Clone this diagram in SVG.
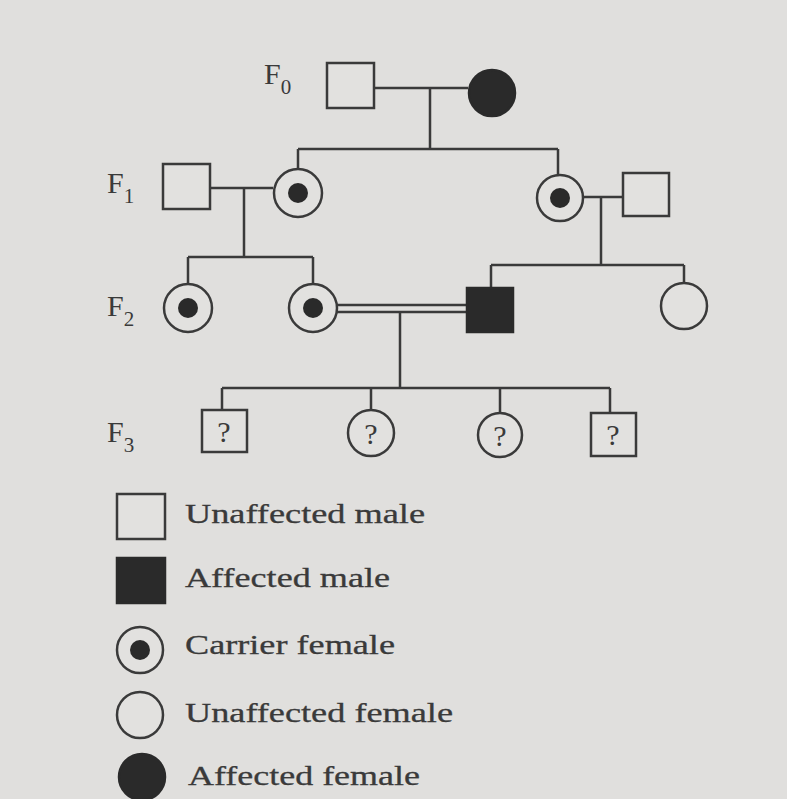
<svg xmlns="http://www.w3.org/2000/svg" width="787" height="799" viewBox="0 0 787 799">
<style>
.ln{fill:none;stroke:#3a3a3a;stroke-width:2.5}
.open{fill:#e2e1df;stroke:#3a3a3a;stroke-width:2.5}
.fill{fill:#2a2a2a;stroke:#2a2a2a;stroke-width:2.5}
.dot{fill:#2a2a2a}
.lbl{font-family:"Liberation Serif","DejaVu Serif",serif;font-size:30px;fill:#3a3a3a}
.sub{font-size:21px}
.q{font-family:"Liberation Serif","DejaVu Serif",serif;font-size:30px;fill:#3a3a3a;text-anchor:middle}
.leg{font-family:"Liberation Serif","DejaVu Serif",serif;font-size:27px;fill:#3a3a3a;stroke:#3a3a3a;stroke-width:0.3}
</style>
<rect width="787" height="799" fill="#e0dfdd"/>
<g id="connectors">
<path class="ln" d="M374 88 H468 M430 88 V149 M298 149 H558 M298 149 V169 M558 149 V175"/>
<path class="ln" d="M210 188 H273 M244 188 V257 M188 257 H313 M188 257 V284 M313 257 V284"/>
<path class="ln" d="M584 197 H623 M601 197 V265 M491 265 H684 M491 265 V288 M684 265 V283"/>
<path class="ln" d="M337 305 H467 M337 312 H467 M400 312 V388 M222 388 H610 M222 388 V410 M371 388 V410 M500 388 V412 M610 388 V413"/>
</g>
<g id="labels">
<text class="lbl" x="264" y="84">F<tspan class="sub" dy="10">0</tspan></text>
<text class="lbl" x="107" y="193">F<tspan class="sub" dy="10">1</tspan></text>
<text class="lbl" x="107" y="316">F<tspan class="sub" dy="10">2</tspan></text>
<text class="lbl" x="107" y="442">F<tspan class="sub" dy="10">3</tspan></text>
</g>
<g id="f0-male"><rect class="open" x="327" y="63" width="47" height="45"/></g>
<g id="f0-female"><circle class="fill" cx="492" cy="93" r="23"/></g>
<g id="f1-male-left"><rect class="open" x="163" y="164" width="47" height="45"/></g>
<g id="f1-female-left"><circle class="open" cx="298" cy="193" r="24"/><circle class="dot" cx="298" cy="193" r="10"/></g>
<g id="f1-female-right"><circle class="open" cx="560" cy="198" r="23"/><circle class="dot" cx="560" cy="198" r="10"/></g>
<g id="f1-male-right"><rect class="open" x="623" y="173" width="46" height="43"/></g>
<g id="f2-female-1"><circle class="open" cx="188" cy="308" r="24"/><circle class="dot" cx="188" cy="308" r="10"/></g>
<g id="f2-female-2"><circle class="open" cx="313" cy="308" r="24"/><circle class="dot" cx="313" cy="308" r="10"/></g>
<g id="f2-male"><rect class="fill" x="467" y="288" width="46" height="44"/></g>
<g id="f2-female-3"><circle class="open" cx="684" cy="306" r="23"/></g>
<g id="f3-male-1"><rect class="open" x="202" y="410" width="45" height="42"/><text class="q" x="224" y="442">?</text></g>
<g id="f3-female-1"><circle class="open" cx="371" cy="433" r="23"/><text class="q" x="371" y="444">?</text></g>
<g id="f3-female-2"><circle class="open" cx="500" cy="435" r="22"/><text class="q" x="500" y="446">?</text></g>
<g id="f3-male-2"><rect class="open" x="591" y="413" width="45" height="43"/><text class="q" x="613" y="445">?</text></g>
<g id="legend">
<rect class="open" x="117" y="494" width="48" height="45"/>
<text class="leg" x="185" y="523" textLength="240" lengthAdjust="spacingAndGlyphs">Unaffected male</text>
<rect class="fill" x="117" y="558" width="48" height="45"/>
<text class="leg" x="185" y="587" textLength="205" lengthAdjust="spacingAndGlyphs">Affected male</text>
<circle class="open" cx="140" cy="650" r="23"/><circle class="dot" cx="140" cy="650" r="10"/>
<text class="leg" x="185" y="654" textLength="210" lengthAdjust="spacingAndGlyphs">Carrier female</text>
<circle class="open" cx="140" cy="715" r="23"/>
<text class="leg" x="185" y="722" textLength="268" lengthAdjust="spacingAndGlyphs">Unaffected female</text>
<circle class="fill" cx="142" cy="777" r="23"/>
<text class="leg" x="188" y="785" textLength="232" lengthAdjust="spacingAndGlyphs">Affected female</text>
</g>
</svg>
